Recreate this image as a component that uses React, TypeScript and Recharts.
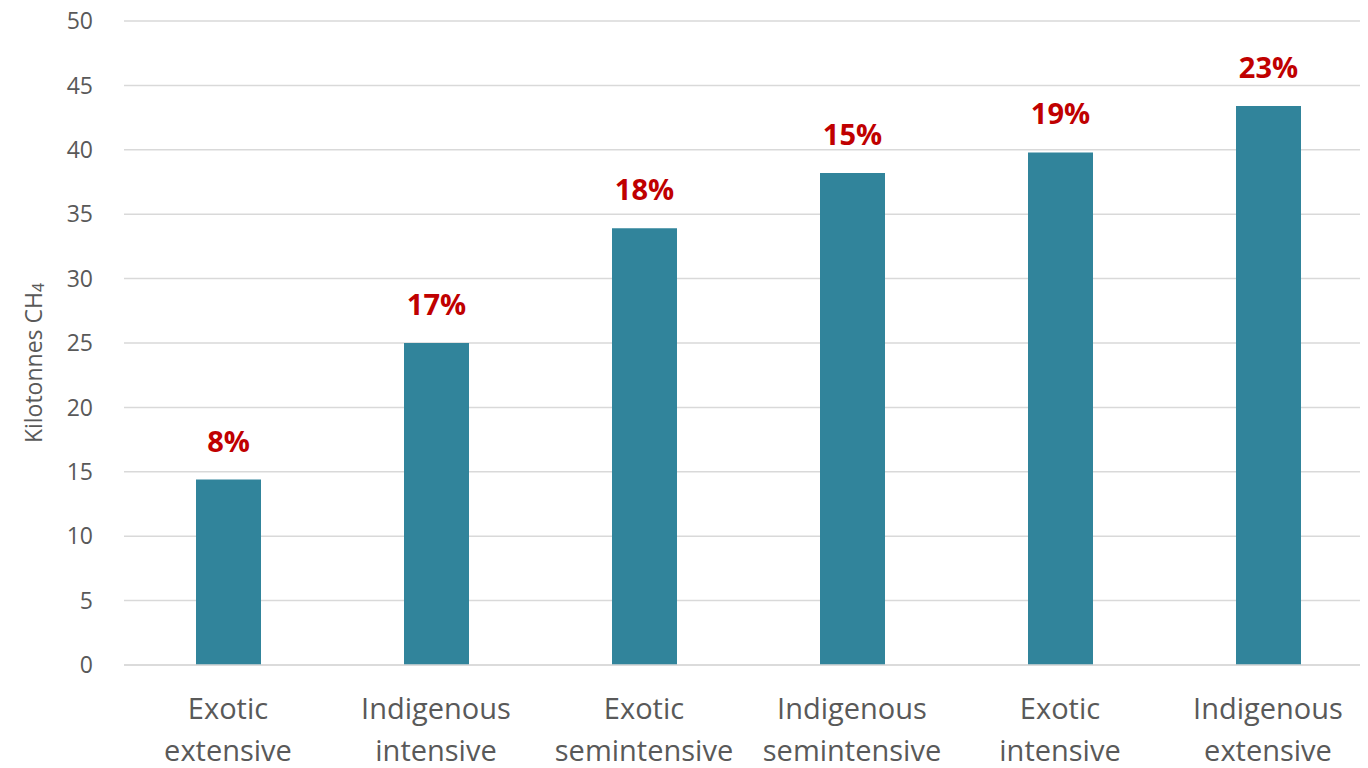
import React from "react";
import { BarChart, Bar, XAxis, YAxis, CartesianGrid, LabelList } from "recharts";

const categories = [
  "Exotic extensive",
  "Indigenous intensive",
  "Exotic semintensive",
  "Indigenous semintensive",
  "Exotic intensive",
  "Indigenous extensive",
];
const emissions = [14.4, 25.0, 33.9, 38.2, 39.8, 43.4];
const shares = ["8%", "17%", "18%", "15%", "19%", "23%"];
const yTicks = [0, 5, 10, 15, 20, 25, 30, 35, 40, 45, 50];

const data = categories.map((c, i) => ({ name: c, value: emissions[i], share: shares[i] }));

const FONT = "'Open Sans', sans-serif";

const XTick = (props: any) => {
  const { x, y, payload } = props;
  const parts = String(payload.value).split(" ");
  return (
    <text x={x} y={y} textAnchor="middle" fill="#595959" fontFamily={FONT} fontSize={29}>
      <tspan x={x} dy={46}>{parts[0]}</tspan>
      <tspan x={x} dy={42}>{parts[1]}</tspan>
    </text>
  );
};

const YLabel = () => (
  <text
    x={25}
    y={363}
    transform="rotate(-90 25 363)"
    textAnchor="middle"
    dominantBaseline="central"
    fill="#595959"
    fontFamily={FONT}
    fontSize={23}
  >
    Kilotonnes CH<tspan fontSize={16} dy={5}>4</tspan>
  </text>
);

export default function App() {
  return (
    <div
      style={{
        width: 1360,
        height: 768,
        marginTop: -8,
        overflow: "hidden",
        position: "relative",
      }}
    >
      <BarChart
        width={1364}
        height={768}
        data={data}
        margin={{ top: 21, right: 0, bottom: 95, left: 0 }}
        barCategoryGap={0}
      >
        <CartesianGrid vertical={false} stroke="#D9D9D9" strokeWidth={1.5} />
        <XAxis
          dataKey="name"
          axisLine={{ stroke: "#D9D9D9", strokeWidth: 1.5 }}
          tickLine={false}
          tick={<XTick />}
          interval={0}
          height={8}
        />
        <YAxis
          domain={[0, 50]}
          ticks={yTicks}
          axisLine={false}
          tickLine={false}
          width={116}
          tickMargin={25}
          tick={{ fill: "#595959", fontSize: 23, fontFamily: FONT }}
        />
        <Bar dataKey="value" fill="#31849B" barSize={65} isAnimationActive={false}>
          <LabelList
            dataKey="share"
            position="top"
            offset={28}
            fill="#C00000"
            fontWeight="bold"
            fontSize={29}
            fontFamily={FONT}
          />
        </Bar>
      </BarChart>
      <svg style={{ position: "absolute", left: 0, top: 0 }} width={60} height={768}>
        <YLabel />
      </svg>
    </div>
  );
}
